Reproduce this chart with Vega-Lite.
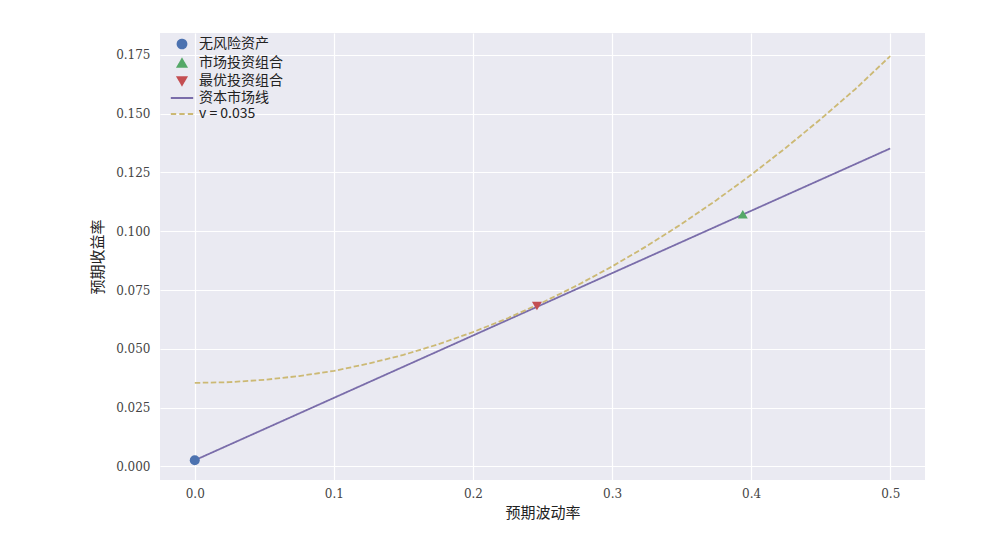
{
  "$schema": "https://vega.github.io/schema/vega-lite/v6.json",
  "width": 765,
  "height": 447,
  "autosize": "none",
  "padding": {"left": 160, "top": 33, "right": 66, "bottom": 67},
  "background": "white",
  "config": {
    "view": {"fill": "#EAEAF2", "stroke": null},
    "axis": {
      "domain": false,
      "ticks": false,
      "grid": true,
      "gridColor": "white",
      "gridWidth": 1.2,
      "labelFont": "DejaVu Serif",
      "labelFontSize": 12,
      "labelColor": "#444444",
      "titleFont": "Noto Sans CJK SC",
      "titleFontSize": 15,
      "titleFontWeight": "normal",
      "titleColor": "#222222"
    },
    "legend": {
      "labelFont": "Noto Sans CJK SC",
      "labelFontSize": 14,
      "labelColor": "#222222"
    }
  },
  "data": {
    "values": [
      {"series": "资本市场线", "sigma": 0.0, "mu": 0.0026},
      {"series": "资本市场线", "sigma": 0.5, "mu": 0.1352},
      {"series": "v = 0.035", "sigma": 0.0, "mu": 0.0355},
      {"series": "v = 0.035", "sigma": 0.025, "mu": 0.0358},
      {"series": "v = 0.035", "sigma": 0.05, "mu": 0.0368},
      {"series": "v = 0.035", "sigma": 0.075, "mu": 0.0384},
      {"series": "v = 0.035", "sigma": 0.1, "mu": 0.0406},
      {"series": "v = 0.035", "sigma": 0.125, "mu": 0.0437},
      {"series": "v = 0.035", "sigma": 0.15, "mu": 0.0474},
      {"series": "v = 0.035", "sigma": 0.175, "mu": 0.0519},
      {"series": "v = 0.035", "sigma": 0.2, "mu": 0.0571},
      {"series": "v = 0.035", "sigma": 0.225, "mu": 0.0630},
      {"series": "v = 0.035", "sigma": 0.25, "mu": 0.0697},
      {"series": "v = 0.035", "sigma": 0.275, "mu": 0.0770},
      {"series": "v = 0.035", "sigma": 0.3, "mu": 0.0850},
      {"series": "v = 0.035", "sigma": 0.325, "mu": 0.0937},
      {"series": "v = 0.035", "sigma": 0.35, "mu": 0.1031},
      {"series": "v = 0.035", "sigma": 0.375, "mu": 0.1132},
      {"series": "v = 0.035", "sigma": 0.4, "mu": 0.1240},
      {"series": "v = 0.035", "sigma": 0.425, "mu": 0.1355},
      {"series": "v = 0.035", "sigma": 0.45, "mu": 0.1477},
      {"series": "v = 0.035", "sigma": 0.475, "mu": 0.1605},
      {"series": "v = 0.035", "sigma": 0.5, "mu": 0.1745},
      {"series": "无风险资产", "sigma": 0.0, "mu": 0.0026},
      {"series": "市场投资组合", "sigma": 0.394, "mu": 0.1072},
      {"series": "最优投资组合", "sigma": 0.246, "mu": 0.0682}
    ]
  },
  "encoding": {
    "x": {
      "field": "sigma", "type": "quantitative",
      "scale": {"domain": [-0.025, 0.525], "nice": false, "zero": false},
      "axis": {"title": "预期波动率", "values": [0, 0.1, 0.2, 0.3, 0.4, 0.5], "format": ".1f", "labelPadding": 8, "titlePadding": 6}
    },
    "y": {
      "field": "mu", "type": "quantitative",
      "scale": {"domain": [-0.0058, 0.1843], "nice": false, "zero": false},
      "axis": {"title": "预期收益率", "values": [0, 0.025, 0.05, 0.075, 0.1, 0.125, 0.15, 0.175], "format": ".3f", "labelPadding": 10, "titlePadding": 10}
    },
    "color": {
      "field": "series", "type": "nominal",
      "scale": {
        "domain": ["无风险资产", "市场投资组合", "最优投资组合", "资本市场线", "v = 0.035"],
        "range": ["#4C72B0", "#55A868", "#C44E52", "#7A6DAA", "#CCB974"]
      },
      "legend": {
        "title": null,
        "orient": "none",
        "legendX": 15,
        "legendY": 4,
        "padding": 0,
        "rowPadding": 2,
        "symbolSize": 80,
        "labelOffset": 10,
        "encode": {
          "symbols": {
            "update": {
              "stroke": {"scale": "color", "field": "value"},
              "fill": {"scale": "color", "field": "value"},
              "strokeWidth": {"value": 1.8}
            }
          }
        }
      }
    }
  },
  "layer": [
    {
      "transform": [{"filter": "datum.series === '资本市场线' || datum.series === 'v = 0.035'"}],
      "mark": {"type": "line", "strokeWidth": 1.8},
      "encoding": {
        "strokeDash": {
          "field": "series", "type": "nominal",
          "scale": {
            "domain": ["无风险资产", "市场投资组合", "最优投资组合", "资本市场线", "v = 0.035"],
            "range": [[1, 0], [1, 0], [1, 0], [1, 0], [5.5, 2.5]]
          },
          "legend": null
        }
      }
    },
    {
      "transform": [{"filter": "datum.series === '无风险资产' || datum.series === '市场投资组合' || datum.series === '最优投资组合'"}],
      "mark": {"type": "point", "filled": true, "opacity": 1, "size": 100},
      "encoding": {
        "shape": {
          "field": "series", "type": "nominal",
          "scale": {
            "domain": ["无风险资产", "市场投资组合", "最优投资组合", "资本市场线", "v = 0.035"],
            "range": ["circle", "triangle-up", "triangle-down", "M-2.5,0H2.5", "M-2.5,0H-1.3M-0.6,0H0.6M1.3,0H2.5"]
          }
        }
      }
    }
  ]
}
